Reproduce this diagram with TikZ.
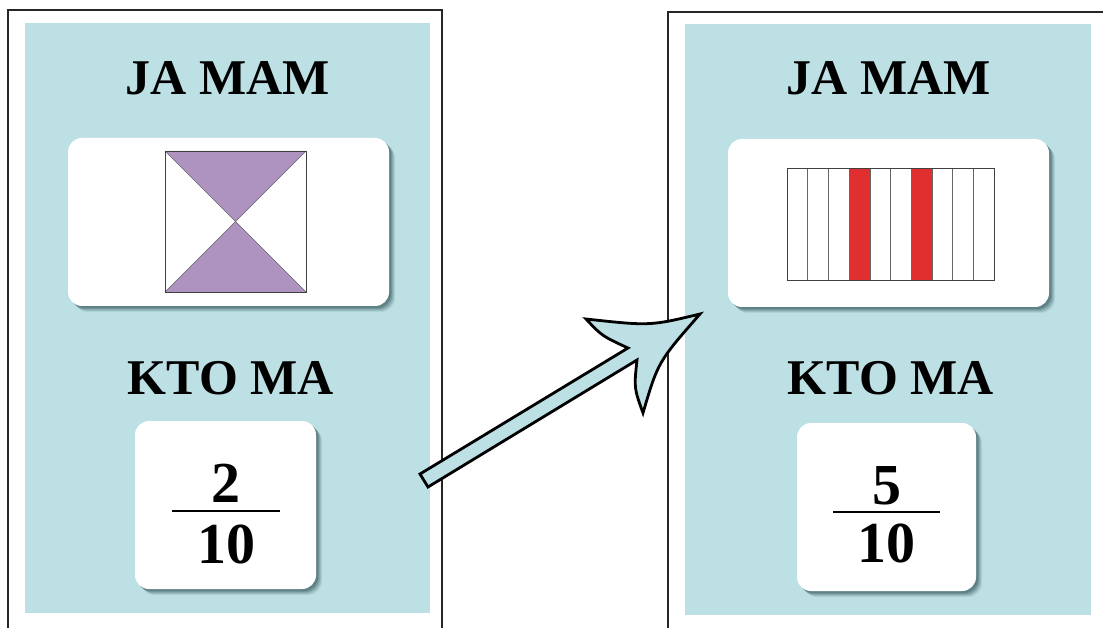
\documentclass[tikz,border=0pt]{standalone}
\usepackage{fontspec}
\setmainfont{Liberation Serif}
\begin{document}
\begin{tikzpicture}[x=1pt,y=-1pt,
  cardline/.style={draw=black!85,line width=1.2pt},
  bluebg/.style={fill=cardblue},
  whitebox/.style={fill=white,rounded corners=14pt},
  title/.style={font=\fontsize{50}{50}\selectfont\bfseries,anchor=base,inner sep=0pt},
  num/.style={font=\fontsize{58}{58}\selectfont\bfseries,anchor=base,inner sep=0pt},
  fracline/.style={line width=2.8pt},
  thin/.style={draw=black!75,line width=0.9pt},
  bigarrow/.style={fill=cardblue,draw=black,line width=2.8pt,line join=miter,miter limit=20}
]
\definecolor{cardblue}{RGB}{189,224,229}
\definecolor{shadowc}{RGB}{50,85,90}
\definecolor{purp}{RGB}{174,147,192}
\definecolor{redstrip}{RGB}{225,46,46}
\useasboundingbox (0,0) rectangle (1103,628);
\clip (0,0) rectangle (1103,628);
\fill[white] (0,0) rectangle (1103,628);

% ---------- left card ----------
\draw[cardline] (8,640) -- (8,10) -- (442,10) -- (442,640);
\fill[bluebg] (25,23) rectangle (430,613);
\node[title] (ja1) at (228,95) {JA MAM};
\foreach \o/\a in {6/0.10,5/0.14,4/0.18,3/0.24,2/0.3}{
  \fill[shadowc,opacity=\a,rounded corners=14pt] (68+\o,138+\o) rectangle (389+\o,306+\o);}
\fill[whitebox] (68,138) rectangle (389,306);
\coordinate (sqa) at (165,151);
\coordinate (sqb) at (306,151);
\coordinate (sqc) at (306,292);
\coordinate (sqd) at (165,292);
\coordinate (sqm) at (235.5,221.5);
\fill[purp] (sqa) -- (sqb) -- (sqm) -- cycle;
\fill[purp] (sqd) -- (sqc) -- (sqm) -- cycle;
\draw[black!60,line width=0.5pt] (sqa) -- (sqc) (sqb) -- (sqd);
\draw[thin] (sqa) rectangle (sqc);
\node[title] (kto1) at (231,394) {KTO MA};
\foreach \o/\a in {6/0.10,5/0.14,4/0.18,3/0.24,2/0.3}{
  \fill[shadowc,opacity=\a,rounded corners=14pt] (135+\o,421+\o) rectangle (316+\o,589+\o);}
\fill[whitebox] (135,421) rectangle (316,589);
\node[num] (n1) at (226,502) {2};
\draw[fracline] (172,511) -- (280,511);
\node[num] (d1) at (226,563) {10};

% ---------- right card ----------
\draw[cardline] (668,640) -- (668,12) -- (1110,12);
\fill[bluebg] (685,24) rectangle (1091,615);
\node[title] (ja2) at (888.5,95) {JA MAM};
\foreach \o/\a in {6/0.10,5/0.14,4/0.18,3/0.24,2/0.3}{
  \fill[shadowc,opacity=\a,rounded corners=14pt] (728+\o,139+\o) rectangle (1049+\o,307+\o);}
\fill[whitebox] (728,139) rectangle (1049,307);
\foreach \i in {3,6}{
  \fill[redstrip] ({787+\i*20.7},168) rectangle ({787+(\i+1)*20.7},280);}
\foreach \i in {1,...,9}{
  \draw[black!60,line width=0.6pt] ({787+\i*20.7},168) -- ({787+\i*20.7},280);}
\draw[thin] (787,168) rectangle (994,280);
\node[title] (kto2) at (891,394) {KTO MA};
\foreach \o/\a in {6/0.10,5/0.14,4/0.18,3/0.24,2/0.3}{
  \fill[shadowc,opacity=\a,rounded corners=14pt] (797+\o,423+\o) rectangle (976+\o,591+\o);}
\fill[whitebox] (797,423) rectangle (976,591);
\node[num] (n2) at (886.5,504) {5};
\draw[fracline] (833,512) -- (940,512);
\node[num] (d2) at (886.5,562) {10};

% ---------- arrow ----------
\draw[bigarrow] (700,314) .. controls (650,326) .. (586,319)
  .. controls (602,336) .. (628,348)
  -- (420,474) -- (428,487) -- (637,360)
  .. controls (634,388) .. (643,413)
  .. controls (658,362) .. cycle;
\end{tikzpicture}
\end{document}
